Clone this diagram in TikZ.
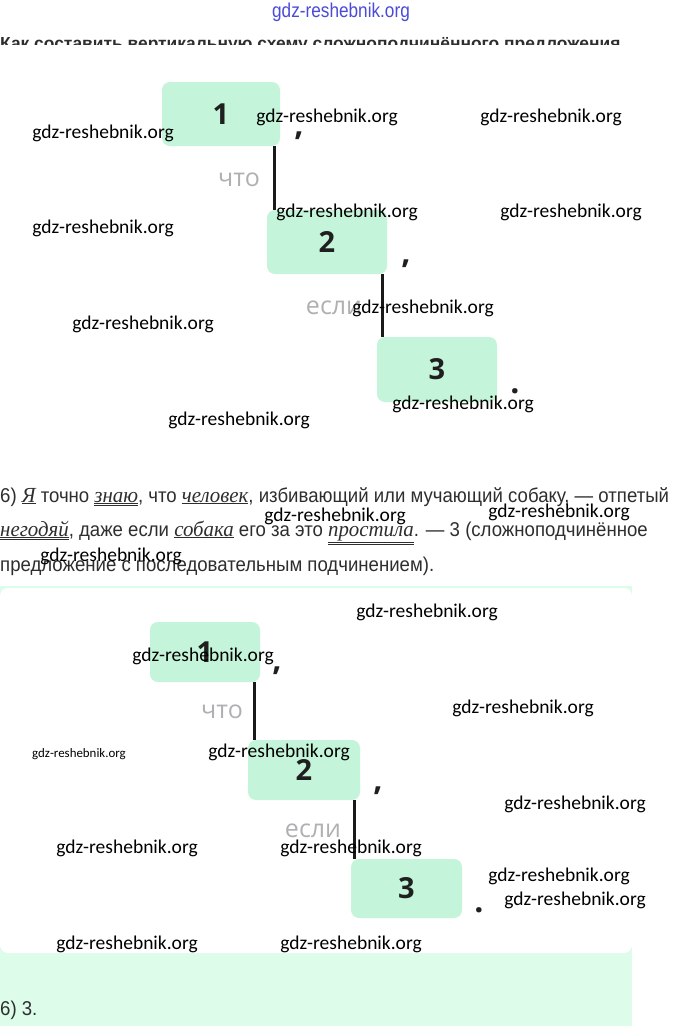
\documentclass[tikz,border=0pt]{standalone}
\usepackage{fontspec}
\setmainfont{Liberation Sans}
\newfontfamily\wmfont{Carlito}
\newfontfamily\narrowfont[FakeStretch=0.86]{Liberation Sans}
\newfontfamily\bodyfont[FakeStretch=0.93]{Liberation Sans}
\newfontfamily\headfont{Liberation Sans}
\newfontfamily\boxfont{Open Sans}
\newfontfamily\serifit[FakeStretch=0.97]{Liberation Serif}
\definecolor{boxgreen}{HTML}{C4F5DA}
\definecolor{panelgreen}{HTML}{DDFCEA}
\definecolor{conjgrey}{HTML}{AEB0B2}
\definecolor{txtgrey}{HTML}{2E2E2E}
\definecolor{wmblue}{HTML}{4B4BD8}
\newcommand\itw[1]{{\serifit\itshape\fontsize{21.5}{21.5}\selectfont #1}}
\newcommand\subjw[1]{\underline{\itw{#1}}}
\newcommand\predw[1]{\underline{\underline{\itw{#1}}}}
\tikzset{
  numbox/.style={fill=boxgreen, rounded corners=8pt, inner sep=0pt,
    font=\boxfont\bfseries\fontsize{29}{29}\selectfont, text=black!88},
  conj/.style={font=\boxfont\fontsize{25}{25}\selectfont, text=conjgrey, inner sep=0pt},
  punct/.style={font=\boxfont\bfseries\fontsize{32}{32}\selectfont, text=black!88, inner sep=0pt, anchor=base},
  link/.style={line width=2.8pt, black!90},
  wm/.style={font=\wmfont\fontsize{19.5}{19.5}\selectfont, text=black, inner sep=0pt},
  wmsmall/.style={font=\wmfont\fontsize{12.9}{12.9}\selectfont, text=black, inner sep=0pt},
  body/.style={font=\bodyfont\fontsize{20}{20}\selectfont, text=txtgrey, inner sep=0pt, anchor=base west},
}
\begin{document}
\begin{tikzpicture}[x=1pt,y=-1pt]
\useasboundingbox (0,0) rectangle (680,1026);
\fill[white] (0,0) rectangle (680,1026);
% top watermark
\node[font=\narrowfont\fontsize{20}{20}\selectfont, text=wmblue, inner sep=0pt] (wtop) at (341,12) {gdz-reshebnik.org};
% clipped heading
\begin{scope}
\clip (0,30) rectangle (680,44);
\node[font=\headfont\bfseries\fontsize{17.4}{17.4}\selectfont, text=txtgrey, inner sep=0pt, anchor=base west] (head) at (0,49.5) {Как составить вертикальную схему сложноподчинённого предложения};
\end{scope}

% ---------- diagram 1 ----------
\node[numbox, minimum width=118pt, minimum height=64pt] (a1) at (221,114) {1};
\node[numbox, minimum width=120pt, minimum height=64pt] (a2) at (327,242) {2};
\node[numbox, minimum width=120pt, minimum height=65pt] (a3) at (437,369.5) {3};
\node[punct] (ac1) at (299,135) {,};
\node[punct] (ac2) at (406,263) {,};
\node[punct] (ad3) at (515,393) {.};
\coordinate (a1l) at ([xshift=-6pt]a1.south east);
\coordinate (a2l) at ([xshift=-5pt]a2.south east);
\draw[link] (a1l) -- (a1l |- a2.north);
\draw[link] (a2l) -- (a2l |- a3.north);
\node[conj] (aq1) at (239,180) {что};
\node[conj] (aq2) at (334,308) {если};

% watermarks, part 1
\node[wm] (w1) at (103,133) {gdz-reshebnik.org};
\node[wm] (w2) at (327,117) {gdz-reshebnik.org};
\node[wm] (w3) at (551,117) {gdz-reshebnik.org};
\node[wm] (w4) at (103,228) {gdz-reshebnik.org};
\node[wm] (w5) at (347,212) {gdz-reshebnik.org};
\node[wm] (w6) at (571,212) {gdz-reshebnik.org};
\node[wm] (w7) at (143,324) {gdz-reshebnik.org};
\node[wm] (w8) at (423,308) {gdz-reshebnik.org};
\node[wm] (w9) at (463,404) {gdz-reshebnik.org};
\node[wm] (w10) at (239,420) {gdz-reshebnik.org};

% ---------- text ----------
\node[body] (t1) at (0,502) {6) \subjw{Я} точно \predw{знаю}, что \subjw{человек}, избивающий или мучающий собаку, — отпетый};
\node[body] (t2) at (0,536) {\predw{негодяй}, даже если \subjw{собака} его за это \predw{простила}. — 3 (сложноподчинённое};
\node[body] (t3) at (0,571) {предложение с последовательным подчинением).};
\node[wm] (w11) at (335,516) {gdz-reshebnik.org};
\node[wm] (w12) at (559,512) {gdz-reshebnik.org};
\node[wm] (w13) at (111,556) {gdz-reshebnik.org};

% ---------- panel ----------
\fill[panelgreen] (0,586) rectangle (632,1026);
\fill[white, rounded corners=8pt] (0,588) rectangle (632,953);

% ---------- diagram 2 ----------
\node[numbox, minimum width=110pt, minimum height=60pt] (b1) at (205,652) {1};
\node[numbox, minimum width=112pt, minimum height=60pt] (b2) at (304,770) {2};
\node[numbox, minimum width=111pt, minimum height=59pt] (b3) at (406.5,888.5) {3};
\node[punct] (bc1) at (277,670) {,};
\node[punct] (bc2) at (378,790) {,};
\node[punct] (bd3) at (479,912) {.};
\coordinate (b1l) at ([xshift=-6pt]b1.south east);
\coordinate (b2l) at ([xshift=-6pt]b2.south east);
\draw[link] (b1l) -- (b1l |- b2.north);
\draw[link] (b2l) -- (b2l |- b3.north);
\node[conj] (bq1) at (222,712) {что};
\node[conj] (bq2) at (313,831) {если};

% watermarks, part 2
\node[wm] (w14) at (427,612) {gdz-reshebnik.org};
\node[wm] (w15) at (203,656) {gdz-reshebnik.org};
\node[wm] (w16) at (523,708) {gdz-reshebnik.org};
\node[wmsmall] (w17) at (79,754) {gdz-reshebnik.org};
\node[wm] (w18) at (279,752) {gdz-reshebnik.org};
\node[wm] (w19) at (575,804) {gdz-reshebnik.org};
\node[wm] (w20) at (127,848) {gdz-reshebnik.org};
\node[wm] (w21) at (351,848) {gdz-reshebnik.org};
\node[wm] (w22) at (559,876) {gdz-reshebnik.org};
\node[wm] (w23) at (575,900) {gdz-reshebnik.org};
\node[wm] (w24) at (127,944) {gdz-reshebnik.org};
\node[wm] (w25) at (351,944) {gdz-reshebnik.org};

\node[body] (t4) at (0,1015) {6) 3.};
\end{tikzpicture}
\end{document}
